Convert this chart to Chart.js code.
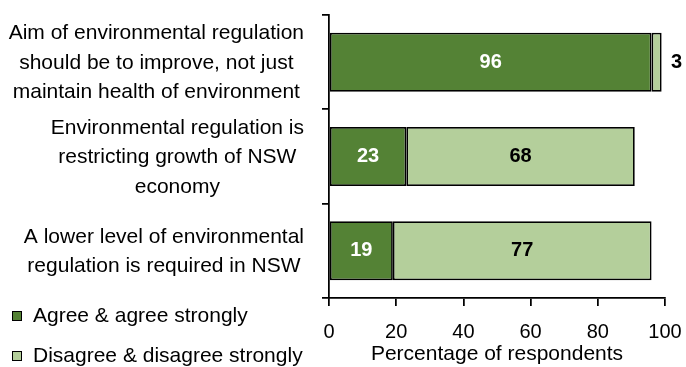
<!DOCTYPE html>
<html>
<head>
<meta charset="utf-8">
<title>Environmental regulation survey</title>
<script src="https://cdn.jsdelivr.net/npm/chart.js@4.4.1/dist/chart.umd.min.js"></script>
<style>
  body { margin: 0; background: #fff; }
  #chartBox { width: 686px; height: 367px; }
</style>
</head>
<body>
<div id="chartBox"><canvas id="surveyChart" width="686" height="367"></canvas></div>
<script>
// survey statements, one array of lines per bar
const statements = [
  ['Aim of environmental regulation', 'should be to improve, not just', 'maintain health of environment'],
  ['Environmental regulation is', 'restricting growth of NSW', 'economy'],
  ['A lower level of environmental', 'regulation is required in NSW']
]
const agreeValues = [96, 23, 19]
const disagreeValues = [3, 68, 77]
const seriesNames = ['Agree & agree strongly', 'Disagree & disagree strongly']
const seriesColours = ['#548235', '#b4cf9b']
const xTicks = [0, 20, 40, 60, 80, 100]
const axisTitle = 'Percentage of respondents'

const fontFamily = '"Liberation Sans", Arial, sans-serif'

// numbers inside the bars (or just past the end when the bar is too thin)
const valueLabels = {
  id: 'valueLabels',
  afterDatasetsDraw(chart) {
    let ctx = chart.ctx
    ctx.save()
    ctx.font = 'bold 20px ' + fontFamily
    ctx.textAlign = 'center'
    ctx.textBaseline = 'middle'
    chart.data.datasets.forEach((ds, i) => {
      let meta = chart.getDatasetMeta(i)
      meta.data.forEach((bar, j) => {
        let text = String(ds.data[j])
        let w = bar.x - bar.base
        if (w < 30) {
          ctx.fillStyle = '#000'
          ctx.fillText(text, bar.x + 15, bar.y)
        } else {
          ctx.fillStyle = i == 0 ? '#fff' : '#000'
          ctx.fillText(text, (bar.x + bar.base) / 2, bar.y)
        }
      })
    })
    ctx.restore()
  }
}

// statement text left of the axis, each block centred and right-aligned
const statementLabels = {
  id: 'statementLabels',
  afterDraw(chart) {
    let ctx = chart.ctx
    let yScale = chart.scales.y
    let rightEdge = 304
    let lineGap = 29.5
    ctx.save()
    ctx.font = '21px ' + fontFamily
    ctx.fillStyle = '#000'
    ctx.textAlign = 'center'
    ctx.textBaseline = 'middle'
    for (let i = 0; i < statements.length; i++) {
      let lines = statements[i]
      let widest = 0
      for (let k = 0; k < lines.length; k++) {
        widest = Math.max(widest, ctx.measureText(lines[k]).width)
      }
      let cx = rightEdge - widest / 2
      let cy = yScale.getPixelForValue(i) + 1
      for (let k = 0; k < lines.length; k++) {
        ctx.fillText(lines[k], cx, cy + (k - (lines.length - 1) / 2) * lineGap)
      }
    }
    ctx.restore()
  }
}

// legend in the bottom left corner
const cornerLegend = {
  id: 'cornerLegend',
  afterDraw(chart) {
    let ctx = chart.ctx
    let rows = [316, 356]
    ctx.save()
    ctx.font = '21px ' + fontFamily
    ctx.textBaseline = 'middle'
    ctx.textAlign = 'left'
    for (let i = 0; i < seriesNames.length; i++) {
      ctx.fillStyle = seriesColours[i]
      ctx.fillRect(12, rows[i] - 5, 10, 10)
      ctx.strokeStyle = '#000'
      ctx.lineWidth = 1
      ctx.strokeRect(12.5, rows[i] - 4.5, 9, 9)
      ctx.fillStyle = '#000'
      ctx.fillText(seriesNames[i], 33, rows[i])
    }
    ctx.restore()
  }
}

let canvas = document.getElementById('surveyChart').getContext('2d')
window.chart = new Chart(canvas, {
  type: 'bar',
  data: {
    labels: statements.map(s => s.join(' ')),
    datasets: [
      {
        label: seriesNames[0],
        data: agreeValues,
        backgroundColor: seriesColours[0],
        borderColor: '#000',
        borderWidth: 1.75,
        borderSkipped: false
      },
      {
        label: seriesNames[1],
        data: disagreeValues,
        backgroundColor: seriesColours[1],
        borderColor: '#000',
        borderWidth: 1.75,
        borderSkipped: false
      }
    ]
  },
  options: {
    indexAxis: 'y',
    responsive: false,
    animation: false,
    layout: { padding: { top: 15, right: 21, left: 0, bottom: 0 } },
    datasets: { bar: { categoryPercentage: 1, barPercentage: 0.625 } },
    scales: {
      y: {
        stacked: true,
        ticks: { display: false },
        grid: { drawOnChartArea: false, drawTicks: true, tickLength: 7, color: '#000', lineWidth: 1.75 },
        border: { display: true, color: '#000', width: 1.75 },
        afterFit(scale) {
          scale.width = 329
          scale.paddingTop = 0
          scale.paddingBottom = 0
        }
      },
      x: {
        stacked: true,
        min: xTicks[0],
        max: xTicks[xTicks.length - 1],
        afterBuildTicks(scale) { scale.ticks = xTicks.map(v => ({ value: v })) },
        ticks: { color: '#000', font: { family: fontFamily, size: 20 }, padding: 14 },
        grid: { drawOnChartArea: false, drawTicks: true, tickLength: 8, color: '#000', lineWidth: 1.75 },
        border: { display: true, color: '#000', width: 1.75 },
        title: {
          display: true,
          text: axisTitle,
          color: '#000',
          font: { family: fontFamily, size: 21 },
          padding: { top: 0, bottom: 0 }
        },
        afterFit(scale) {
          scale.height = 69
          scale.paddingLeft = 0
          scale.paddingRight = 0
        }
      }
    },
    plugins: {
      legend: { display: false },
      tooltip: { enabled: false }
    }
  },
  plugins: [valueLabels, statementLabels, cornerLegend]
})
</script>
</body>
</html>
